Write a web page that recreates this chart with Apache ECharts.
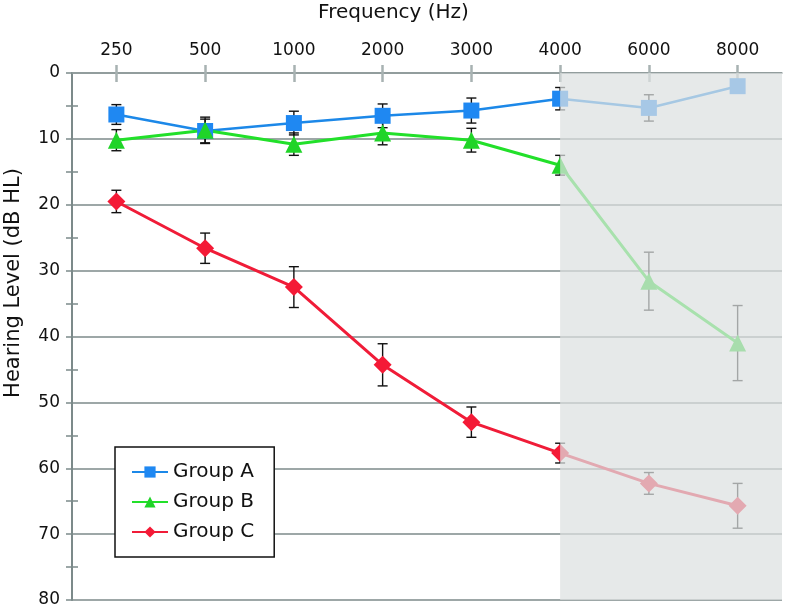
<!DOCTYPE html>
<html>
<head>
<meta charset="utf-8">
<script src="https://cdn.jsdelivr.net/npm/echarts@6/dist/echarts.min.js"></script>
<style>html,body{margin:0;padding:0;background:#fff}#c{width:787px;height:611px}</style>
</head>
<body>
<div id="c"></div>
<script>
const categories = ['250', '500', '1000', '2000', '3000', '4000', '6000', '8000'];
const groupA = [6.3, 8.8, 7.6, 6.5, 5.7, 3.9, 5.3, 2.0];
const groupAErr = [1.5, 1.8, 1.8, 1.8, 1.9, 1.7, 2.0, 0.8];
const groupB = [10.2, 8.7, 10.8, 9.1, 10.2, 14.0, 31.6, 41.0];
const groupBErr = [1.6, 2.0, 1.7, 1.8, 1.8, 1.5, 4.4, 5.7];
const groupC = [19.5, 26.6, 32.5, 44.3, 53.0, 57.7, 62.3, 65.7];
const groupCErr = [1.7, 2.3, 3.1, 3.2, 2.3, 1.5, 1.65, 3.4];
const shadeFrom = '4000';
const yTicks = [0, 10, 20, 30, 40, 50, 60, 70, 80];

const FONT = 'DejaVu Sans';
const chart = echarts.init(document.getElementById('c'), null, {renderer: 'canvas'});

function errData(vals, errs) {
  return vals.map((v, i) => [i, v, errs[i]]);
}
function errRender(params, api) {
  const x = api.value(0), v = api.value(1), e = api.value(2);
  const top = api.coord([x, v - e]);
  const bot = api.coord([x, v + e]);
  const hw = 5;
  const st = {stroke: '#111', lineWidth: 1.4};
  return {
    type: 'group',
    children: [
      {type: 'line', shape: {x1: top[0], y1: top[1], x2: bot[0], y2: bot[1]}, style: st},
      {type: 'line', shape: {x1: top[0] - hw, y1: top[1], x2: top[0] + hw, y2: top[1]}, style: st},
      {type: 'line', shape: {x1: bot[0] - hw, y1: bot[1], x2: bot[0] + hw, y2: bot[1]}, style: st}
    ]
  };
}
const shadeStart = categories.indexOf(shadeFrom) + 0.5;

const axisGray = '#7c8a8a';
const option = {
  animation: false,
  backgroundColor: '#fff',
  grid: {left: 72, right: 5, top: 73, bottom: 11, containLabel: false},
  legend: {
    data: ['Group A', 'Group B', 'Group C'],
    orient: 'vertical',
    left: 115, top: 447,
    padding: [15, 20, 15, 16],
    itemGap: 10,
    itemWidth: 36, itemHeight: 14,
    backgroundColor: '#fff',
    borderColor: '#111', borderWidth: 1.5,
    textStyle: {fontFamily: FONT, fontSize: 20, color: '#111'},
    z: 20
  },
  graphic: [
    {type: 'text', left: 'center', top: 3, style: {text: 'Frequency (Hz)', fontFamily: FONT, fontSize: 20, fill: '#111'}, z: 30},
    {type: 'text', x: 3, y: 283, rotation: Math.PI / 2, style: {text: 'Hearing Level (dB HL)', fontFamily: FONT, fontSize: 21, fill: '#111', align: 'center', verticalAlign: 'top'}, z: 30}
  ],
  xAxis: [
    {
      type: 'category', data: categories, position: 'top', boundaryGap: true,
      axisLine: {show: true, lineStyle: {color: '#8e9a9a', width: 1.5}},
      axisTick: {show: true, alignWithLabel: true, length: 8, lineStyle: {color: '#a8b2b2', width: 2.5}},
      axisLabel: {margin: 14, fontFamily: FONT, fontSize: 17, color: '#111'},
      splitLine: {show: false}
    },
    {
      type: 'category', data: categories, position: 'top', boundaryGap: true,
      axisLine: {show: false},
      axisTick: {show: true, inside: true, alignWithLabel: true, length: 9, lineStyle: {color: '#a8b2b2', width: 2.5}},
      axisLabel: {show: false},
      splitLine: {show: false}
    },
    {type: 'value', min: 0, max: categories.length, show: false}
  ],
  yAxis: [
    {
      type: 'value', inverse: true, min: yTicks[0], max: yTicks[yTicks.length - 1], interval: 10,
      axisLine: {show: true, lineStyle: {color: axisGray, width: 2}},
      axisTick: {show: true, length: 6, lineStyle: {color: axisGray, width: 1.5}},
      minorTick: {show: true, splitNumber: 2, length: 6, lineStyle: {color: axisGray, width: 1.5}},
      axisLabel: {margin: 12, fontFamily: FONT, fontSize: 17, color: '#111'},
      splitLine: {show: true, lineStyle: {color: axisGray, width: 1.5}}
    },
    {
      type: 'value', inverse: true, min: yTicks[0], max: yTicks[yTicks.length - 1], interval: 10, position: 'left',
      axisLine: {show: false},
      axisTick: {show: false, inside: true},
      minorTick: {show: true, splitNumber: 2, length: 6, lineStyle: {color: axisGray, width: 1.5}},
      axisLabel: {show: false},
      splitLine: {show: false}
    }
  ],
  series: [
    {type: 'custom', name: 'errA', renderItem: errRender, data: errData(groupA, groupAErr), z: 2},
    {type: 'custom', name: 'errB', renderItem: errRender, data: errData(groupB, groupBErr), z: 2},
    {type: 'custom', name: 'errC', renderItem: errRender, data: errData(groupC, groupCErr), z: 2},
    {
      type: 'line', name: 'Group A', data: groupA, symbol: 'rect', symbolSize: 16,
      lineStyle: {color: '#1c88e8', width: 2.5}, itemStyle: {color: '#1f88f2'}, z: 3
    },
    {
      type: 'line', name: 'Group B', data: groupB, symbol: 'triangle', symbolSize: 17,
      lineStyle: {color: '#22e02a', width: 3}, itemStyle: {color: '#20d428'}, z: 3
    },
    {
      type: 'line', name: 'Group C', data: groupC, symbol: 'diamond', symbolSize: 18,
      lineStyle: {color: '#f01c38', width: 3}, itemStyle: {color: '#f41a36'}, z: 3
    },
    {
      type: 'line', name: 'shade', xAxisIndex: 2, yAxisIndex: 0, data: [], z: 10,
      markArea: {
        silent: true, z: 10,
        itemStyle: {color: 'rgba(220,224,224,0.72)'},
        data: [[{xAxis: shadeStart}, {xAxis: categories.length}]]
      }
    }
  ]
};
chart.setOption(option);
</script>
</body>
</html>
